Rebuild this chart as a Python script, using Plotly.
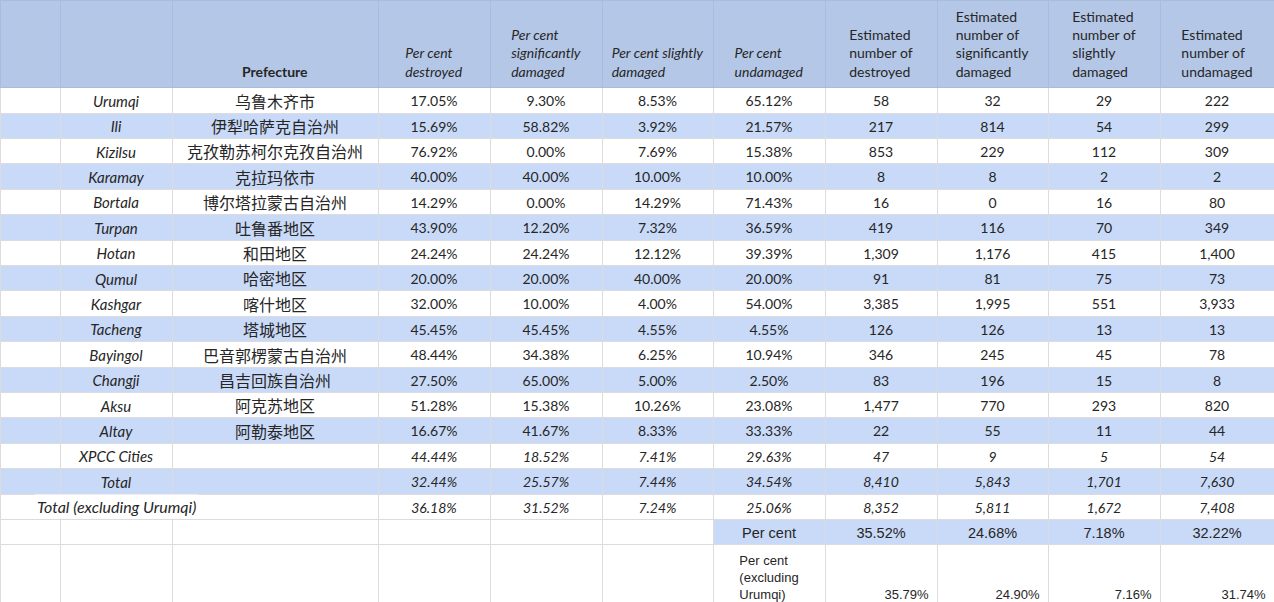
import plotly.graph_objects as go

names_en = ["Urumqi", "Ili", "Kizilsu", "Karamay", "Bortala", "Turpan", "Hotan", "Qumul",
            "Kashgar", "Tacheng", "Bayingol", "Changji", "Aksu", "Altay", "XPCC Cities", "Total"]
names_zh = ["乌鲁木齐市", "伊犁哈萨克自治州", "克孜勒苏柯尔克孜自治州", "克拉玛依市", "博尔塔拉蒙古自治州",
            "吐鲁番地区", "和田地区", "哈密地区", "喀什地区", "塔城地区", "巴音郭楞蒙古自治州",
            "昌吉回族自治州", "阿克苏地区", "阿勒泰地区", "", ""]
pct_destroyed = [17.05, 15.69, 76.92, 40.00, 14.29, 43.90, 24.24, 20.00, 32.00, 45.45, 48.44, 27.50, 51.28, 16.67, 44.44, 32.44]
pct_significant = [9.30, 58.82, 0.00, 40.00, 0.00, 12.20, 24.24, 20.00, 10.00, 45.45, 34.38, 65.00, 15.38, 41.67, 18.52, 25.57]
pct_slight = [8.53, 3.92, 7.69, 10.00, 14.29, 7.32, 12.12, 40.00, 4.00, 4.55, 6.25, 5.00, 10.26, 8.33, 7.41, 7.44]
pct_undamaged = [65.12, 21.57, 15.38, 10.00, 71.43, 36.59, 39.39, 20.00, 54.00, 4.55, 10.94, 2.50, 23.08, 33.33, 29.63, 34.54]
n_destroyed = [58, 217, 853, 8, 16, 419, 1309, 91, 3385, 126, 346, 83, 1477, 22, 47, 8410]
n_significant = [32, 814, 229, 8, 0, 116, 1176, 81, 1995, 126, 245, 196, 770, 55, 9, 5843]
n_slight = [29, 54, 112, 2, 16, 70, 415, 75, 551, 13, 45, 15, 293, 11, 5, 1701]
n_undamaged = [222, 299, 309, 2, 80, 349, 1400, 73, 3933, 13, 78, 8, 820, 44, 54, 7630]

excl_label = "Total (excluding Urumqi)"
excl_pct = [36.18, 31.52, 7.24, 25.06]
excl_n = [8352, 5811, 1672, 7408]

share_label = "Per cent"
share_all = [35.52, 24.68, 7.18, 32.22]
share_excl_label = "Per cent<br>(excluding<br>Urumqi)"
share_excl = [35.79, 24.90, 7.16, 31.74]

headers = ["", "", "Prefecture",
           "Per cent<br>destroyed", "Per cent<br>significantly<br>damaged",
           "Per cent slightly<br>damaged", "Per cent<br>undamaged",
           "Estimated<br>number of<br>destroyed", "Estimated<br>number of<br>significantly<br>damaged",
           "Estimated<br>number of<br>slightly<br>damaged", "Estimated<br>number of<br>undamaged"]
header_style = ["normal"] * 3 + ["italic"] * 4 + ["normal"] * 4
header_weight = ["normal", "normal", "bold"] + ["normal"] * 8

col_widths = [60, 112, 206, 112, 112, 111, 112, 112, 111, 112, 114]
W, H = 1274, 602
HEADER_H = 87
ROW_H = 25.4

BLUE_HEAD = "#b4c7e7"
BLUE_ROW = "#c9daf8"
WHITE = "#ffffff"
TXT = "#262626"
CAL = "Lato"
ARIAL = "Liberation Sans"
CJK = "Noto Sans CJK SC"
NBSP = "\u00a0"
NB = lambda s: s.replace(" ", NBSP)

ncol = 11
pct_cols = [pct_destroyed, pct_significant, pct_slight, pct_undamaged]
num_cols = [n_destroyed, n_significant, n_slight, n_undamaged]
n_main = len(names_en)
italic_rows = {"XPCC Cities", "Total"}

rows, fills, fams, sizes, aligns, styles = [], [], [], [], [], []
for i in range(n_main):
    it = names_en[i] in italic_rows
    r = ["", NB(names_en[i]), names_zh[i]]
    r += [f"{c[i]:.2f}%" for c in pct_cols]
    r += [f"{c[i]:,}" for c in num_cols]
    rows.append(r)
    fills.append([BLUE_ROW if i % 2 == 1 else WHITE] * ncol)
    fams.append([CAL, CAL, CJK] + [CAL] * 8)
    sizes.append([14, 15, 16] + [14] * 8)
    aligns.append(["center"] * ncol)
    styles.append(["normal", "italic", "normal"] + [("italic" if it else "normal")] * 8)

# "Total (excluding Urumqi)" overflows its cell, so it is drawn as a label below
excl_row = len(rows)
r = ["", "", ""]
r += [f"{v:.2f}%" for v in excl_pct]
r += [f"{v:,}" for v in excl_n]
rows.append(r)
fills.append([WHITE] * ncol)
fams.append([CAL] * ncol)
sizes.append([14] * ncol)
aligns.append(["center"] * ncol)
styles.append(["italic"] * ncol)

r = [""] * 6 + [NB(share_label)] + [f"{v:.2f}%" for v in share_all]
rows.append(r)
fills.append([WHITE] * 6 + [BLUE_ROW] * 5)
fams.append([ARIAL] * ncol)
sizes.append([14.5] * ncol)
aligns.append(["center"] * ncol)
styles.append(["normal"] * ncol)

r = [""] * 6 + [NB(share_excl_label)] + [(NBSP + "<br>") * 2 + f"{v:.2f}%" for v in share_excl]
rows.append(r)
fills.append([WHITE] * ncol)
fams.append([ARIAL] * ncol)
sizes.append([13] * ncol)
aligns.append(["center"] * 7 + ["right"] * 4)
styles.append(["normal"] * ncol)

T = lambda m: [list(x) for x in zip(*m)]

max_lines = max(h.count("<br>") + 1 for h in headers)
head_vals = [(NBSP + "<br>") * (max_lines - (h.count("<br>") + 1)) + NB(h) for h in headers]

table = dict(
    type="table",
    columnwidth=col_widths,
    header=dict(values=head_vals, fill=dict(color=BLUE_HEAD), line=dict(color="#a8bcdf", width=1),
                align="center",
                font=dict(family=CAL, size=14, color=TXT, style=header_style, weight=header_weight),
                height=HEADER_H),
    cells=dict(values=T(rows), fill=dict(color=T(fills)), line=dict(color="#dcdcdc", width=1),
               align=T(aligns),
               font=dict(family=T(fams), size=T(sizes), color=TXT, style=T(styles)),
               height=ROW_H),
)

col_x0 = sum(col_widths[:1])
excl_x = (col_x0 + col_widths[1] / 2) / sum(col_widths)
excl_y = 1 - (HEADER_H + (excl_row + 0.5) * ROW_H) / H

layout = dict(
    width=W, height=H, margin=dict(l=0, r=0, t=0, b=0), paper_bgcolor="white",
    annotations=[dict(text="<i>" + excl_label + "</i>", x=excl_x, y=excl_y,
                      xref="paper", yref="paper", xanchor="center", yanchor="middle",
                      showarrow=False, bgcolor=WHITE, borderpad=2,
                      font=dict(family=CAL, size=16, color=TXT))],
)
fig = go.Figure(data=[table], layout=layout, _validate=False)
fig.write_html("out.html", validate=False, config={"displayModeBar": False},
               post_script="document.body.style.margin='0px';")
